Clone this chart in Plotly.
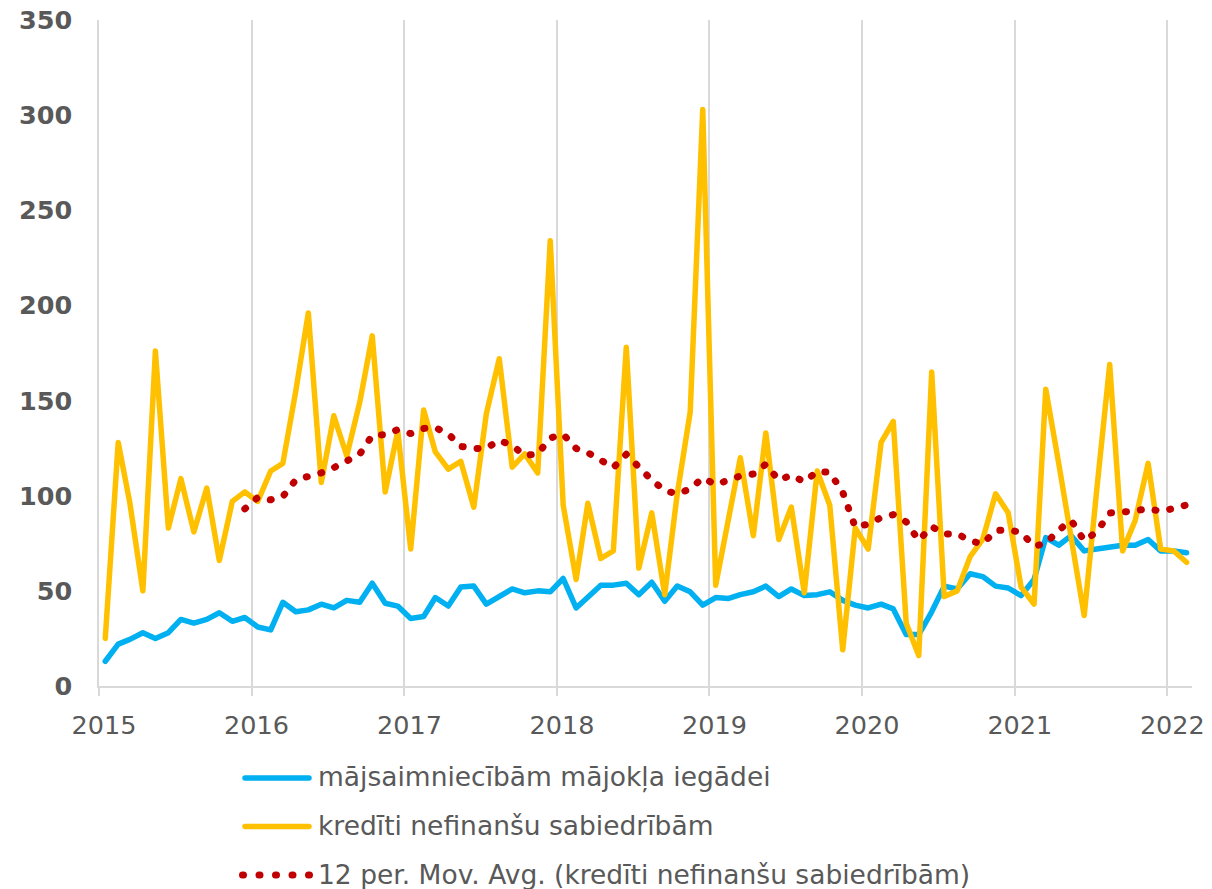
import pandas as pd
import plotly.graph_objects as go

# ---------------- data ----------------
start_month = "2015-01-01"
n_months = 86  # Jan 2015 .. Feb 2022

household = [
    13, 22, 24.5, 28, 25, 28, 35, 33, 35, 38.5, 34, 36,
    31, 29.5, 44, 39, 40, 43, 41, 45, 44, 54, 43.5, 42,
    35.5, 36.5, 46.5, 42, 52, 52.5, 43, 47, 51, 49, 50, 49.5,
    56.5, 41, 47, 53, 53, 54, 48, 54.5, 44.5, 52.5, 49.5, 42.5,
    46.5, 46, 48, 49.5, 52.5, 47, 51, 47.5, 48, 49.5, 45, 42.5,
    41, 43, 40.5, 27, 27, 39, 52.5, 51, 59, 57.5, 52.5, 51.5,
    47.5, 56, 78, 74, 79, 71, 72, 73, 74, 74, 77, 71,
    71, 70,
]

corporate = [
    25, 128, 96, 50, 176, 83, 109, 81, 104, 66, 97, 102,
    97, 113, 117, 155, 196, 107, 142, 121, 149, 184, 102, 134,
    72, 145, 123, 114, 118, 94, 143, 172, 115, 122, 112, 234,
    95, 56, 96, 67, 71, 178, 62, 91, 48, 101, 144, 303,
    53, 87, 120, 79, 133, 77, 94, 49, 113, 95, 19, 83,
    72, 128, 139, 33, 16, 165, 47, 50, 68, 77, 101, 91,
    52, 43, 156, 117, 77, 37, 103, 169, 71, 87, 117, 72,
    71, 65,
]

series_names = [
    "mājsaimniecībām mājokļa iegādei",
    "kredīti nefinanšu sabiedrībām",
    "12 per. Mov. Avg. (kredīti nefinanšu sabiedrībām)",
]
ma_window = 12

# monthly points sit in the middle of each month slot on the date axis
months = pd.date_range(start_month, periods=n_months, freq="MS")
x_dates = months + pd.Timedelta(days=15)
moving_avg = pd.Series(corporate).rolling(ma_window).mean()

# ---------------- styling ----------------
W, H = 1212, 889
ml, mr, mt, mb = 99, 20, 20, 203
pw, ph = W - ml - mr, H - mt - mb
BLUE, YELLOW, RED = "#00B0F0", "#FFC000", "#C00000"
TXT, GRID = "#595959", "#D9D9D9"
FONT = "DejaVu Sans"


def px_x(p):
    return (p - ml) / pw


def px_y(p):
    return (H - mb - p) / ph


fig = go.Figure()
fig.add_trace(go.Scatter(x=x_dates, y=household, mode="lines", name=series_names[0],
                         line=dict(color=BLUE, width=5.5), showlegend=False))
fig.add_trace(go.Scatter(x=x_dates, y=corporate, mode="lines", name=series_names[1],
                         line=dict(color=YELLOW, width=5.5), showlegend=False))
fig.add_trace(go.Scatter(x=x_dates, y=moving_avg, mode="lines", name=series_names[2],
                         line=dict(color=RED, width=7, dash="1px,14px"), showlegend=False))

# ---------------- manual legend (long symbols like the original) ----------------
legend_rows = [778, 826.5, 875]
legend_styles = [
    dict(color=BLUE, width=5.5),
    dict(color=YELLOW, width=5.5),
    dict(color=RED, width=7, dash="1px,15.5px"),
]
shapes = []
annotations = []
for row_y, style, name in zip(legend_rows, legend_styles, series_names):
    if "dash" in style:
        x0, x1 = 242.5, 310
    else:
        x0, x1 = 245, 309
    shapes.append(dict(type="line", xref="paper", yref="paper",
                       x0=px_x(x0), x1=px_x(x1), y0=px_y(row_y), y1=px_y(row_y),
                       line=style))
    annotations.append(dict(xref="paper", yref="paper", x=px_x(316), y=px_y(row_y - 1),
                            xanchor="left", yanchor="middle", showarrow=False,
                            text=name, font=dict(family=FONT, size=26.5, color=TXT)))

fig.update_layout(
    width=W, height=H,
    margin=dict(l=ml, r=mr, t=mt, b=mb, pad=0),
    paper_bgcolor="white", plot_bgcolor="white",
    showlegend=False,
    shapes=shapes,
    annotations=annotations,
    xaxis=dict(
        type="date", range=["2015-01-01", "2022-03-01"],
        tick0="2015-01-01", dtick="M12", tickformat="%Y",
        showgrid=True, gridcolor=GRID, gridwidth=1.5,
        showline=True, linecolor=GRID, linewidth=1.5,
        ticks="outside", ticklen=8, tickcolor=GRID, tickwidth=1.5,
        tickfont=dict(family=FONT, size=25.5, color=TXT),
        ticklabelshift=5, ticklabelstandoff=8,
        zeroline=False, automargin=False,
    ),
    yaxis=dict(
        range=[0, 350], tick0=0, dtick=50,
        showgrid=False, zeroline=False,
        showline=True, linecolor=GRID, linewidth=1.5,
        ticks="",
        tickfont=dict(family=FONT, size=25.5, color=TXT, weight="bold"),
        ticklabelstandoff=20, automargin=False,
    ),
)

post = """
document.body.style.margin = '0';
document.body.style.padding = '0';
var s = document.createElement('style');
s.innerHTML = 'html,body{margin:0;padding:0;overflow:hidden;} .js-line{stroke-linecap:round;stroke-linejoin:round;} .shapelayer path{stroke-linecap:round;}';
document.head.appendChild(s);
"""

fig.write_html("out.html", config={"displayModeBar": False}, post_script=post)
